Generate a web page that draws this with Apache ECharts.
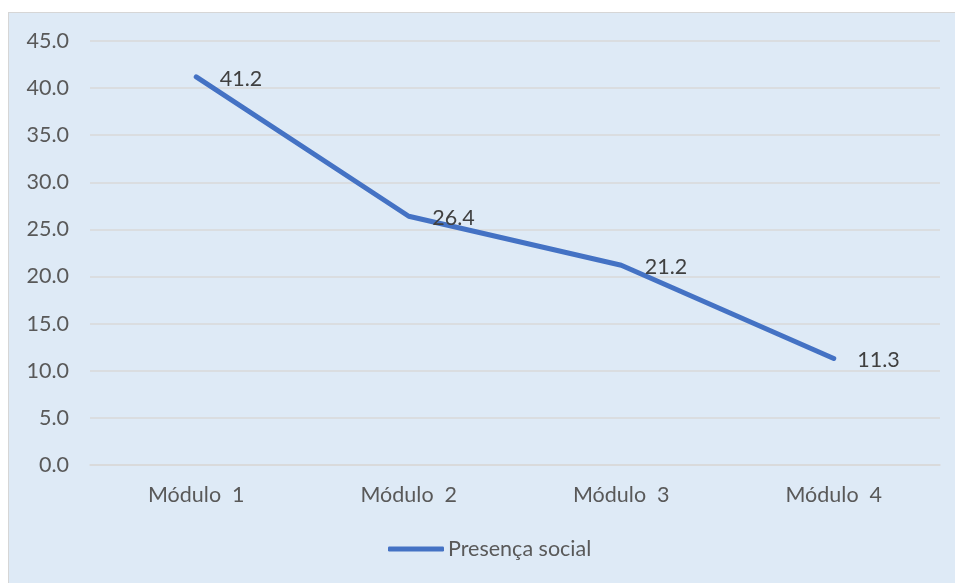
<!DOCTYPE html>
<html>
<head>
<meta charset="utf-8">
<script src="https://cdn.jsdelivr.net/npm/echarts@6/dist/echarts.min.js"></script>
<style>
html,body{margin:0;padding:0;background:#ffffff;width:955px;height:583px;overflow:hidden;}
#frame{position:absolute;left:8px;top:12px;width:960px;height:590px;background:#DEEAF6;border-left:1.5px solid #D6D6D6;border-top:1.5px solid #D6D6D6;}
#c{position:absolute;left:0;top:0;width:947px;height:571px;}
</style>
</head>
<body>
<div id="frame"><div id="c"></div></div>
<script>
const categories = ['Módulo  1', 'Módulo  2', 'Módulo  3', 'Módulo  4'];
const presencaSocial = [41.2, 26.4, 21.2, 11.3];
const seriesName = 'Presença social';

const FONT = 'Lato';
const chart = echarts.init(document.getElementById('c'), null, {renderer: 'canvas'});
chart.setOption({
  backgroundColor: 'transparent',
  animation: false,
  grid: {left: 81, top: 28, width: 850, height: 424, containLabel: false},
  xAxis: {
    type: 'category',
    data: categories,
    boundaryGap: true,
    axisLine: {show: true, lineStyle: {color: '#D9D9D9', width: 1.5}},
    axisTick: {show: false},
    axisLabel: {color: '#595959', fontFamily: FONT, fontSize: 21.5, margin: 19}
  },
  yAxis: {
    type: 'value',
    min: 0, max: 45, interval: 5,
    axisLine: {show: false},
    axisTick: {show: false},
    splitLine: {lineStyle: {color: '#D9D9D9', width: 1.5}},
    axisLabel: {color: '#595959', fontFamily: FONT, fontSize: 21.5, margin: 21,
      formatter: v => v.toFixed(1)}
  },
  legend: {
    bottom: 19,
    left: 374,
    itemWidth: 56,
    itemHeight: 5,
    itemGap: 10,
    data: [{name: seriesName, icon: 'roundRect'}],
    textStyle: {color: '#595959', fontFamily: FONT, fontSize: 21.5, padding: [0,0,0,-1]}
  },
  series: [{
    name: seriesName,
    type: 'line',
    data: presencaSocial,
    symbol: 'circle',
    symbolSize: 1,
    lineStyle: {color: '#4472C4', width: 5, cap: 'round', join: 'round'},
    itemStyle: {color: '#4472C4'},
    label: {
      show: true, position: 'right', distance: 23, offset: [0, 2],
      color: '#404040', fontFamily: FONT, fontSize: 21.5,
      formatter: p => p.value.toFixed(1)
    }
  }]
});
</script>
</body>
</html>
